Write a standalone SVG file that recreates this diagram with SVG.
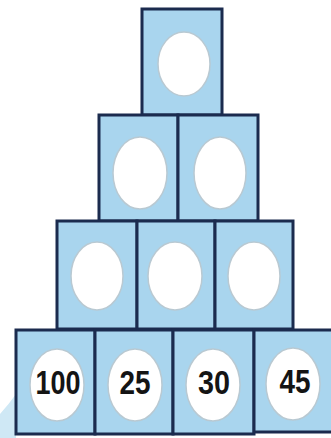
<svg xmlns="http://www.w3.org/2000/svg" width="331" height="438" viewBox="0 0 331 438">
<style>
.box{fill:#a9d5ee;stroke:#1b2b4e;stroke-width:3;stroke-linejoin:miter}
.hole{fill:#ffffff;stroke:#b9c9d2;stroke-width:1.5}
.num{font-family:"Liberation Sans",Arial,sans-serif;font-weight:bold;font-size:33px;fill:#141414;text-anchor:middle}
</style>
<rect width="331" height="438" fill="#ffffff"/>
<path d="M0,414 Q9,404 16,394 L16,438 L0,438 Z" fill="#cfe8f5"/>
<g id="connectors"></g>
<g id="r1c1"><rect class="box" x="142" y="9" width="80" height="106"/><ellipse class="hole" cx="184" cy="64" rx="26" ry="32"/></g>
<g id="r2c1"><rect class="box" x="99" y="115" width="79" height="106"/><ellipse class="hole" cx="140" cy="173" rx="27" ry="36"/></g>
<g id="r2c2"><rect class="box" x="178" y="115" width="80" height="106"/><ellipse class="hole" cx="220" cy="173" rx="26" ry="36"/></g>
<g id="r3c1"><rect class="box" x="57" y="221" width="80" height="108"/><ellipse class="hole" cx="97" cy="276" rx="26" ry="34"/></g>
<g id="r3c2"><rect class="box" x="137" y="221" width="78" height="108"/><ellipse class="hole" cx="175" cy="276" rx="27" ry="34"/></g>
<g id="r3c3"><rect class="box" x="215" y="221" width="78" height="108"/><ellipse class="hole" cx="254" cy="276" rx="26" ry="34"/></g>
<g id="r4c1"><rect class="box" x="16" y="330" width="79" height="104"/><ellipse class="hole" cx="57" cy="385" rx="27" ry="36"/><text class="num" x="58" y="394" textLength="45" lengthAdjust="spacingAndGlyphs">100</text></g>
<g id="r4c2"><rect class="box" x="95" y="330" width="78" height="104"/><ellipse class="hole" cx="135" cy="385" rx="27" ry="36"/><text class="num" x="135" y="394" textLength="31" lengthAdjust="spacingAndGlyphs">25</text></g>
<g id="r4c3"><rect class="box" x="173" y="330" width="81" height="104"/><ellipse class="hole" cx="213" cy="385" rx="27" ry="36"/><text class="num" x="214" y="394" textLength="32" lengthAdjust="spacingAndGlyphs">30</text></g>
<g id="r4c4"><rect class="box" x="254" y="330" width="82" height="102"/><ellipse class="hole" cx="293" cy="384" rx="27" ry="36"/><text class="num" x="295" y="393" textLength="31" lengthAdjust="spacingAndGlyphs">45</text></g>
</svg>
